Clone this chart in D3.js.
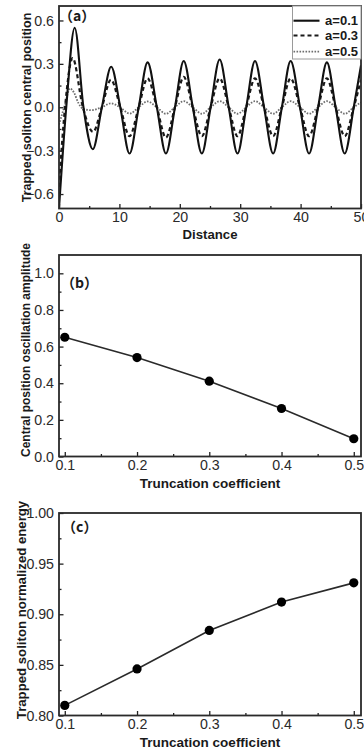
<!DOCTYPE html>
<html>
<head>
<meta charset="utf-8">
<script src="https://cdn.jsdelivr.net/npm/d3@7"></script>
<style>
  body { margin: 0; background: #fff; }
  svg { display: block; }
</style>
</head>
<body>
<div id="chart"></div>
<script>
// ---- panel (a): trapped soliton central position vs distance ----
const distTicks = [0, 10, 20, 30, 40, 50];
const posTicks = [-0.6, -0.3, 0.0, 0.3, 0.6];

const a01X = [0, 1.2, 2.6, 4.05, 5.6, 7.1, 8.64, 10.15, 11.68, 13.2, 14.67, 16.2, 17.7, 19.2, 20.65, 22.15, 23.65, 25.1, 26.6, 28.1, 29.55, 31.0, 32.45, 33.95, 35.45, 36.9, 38.35, 39.9, 41.4, 42.9, 44.35, 45.8, 47.3, 48.8, 50];
const a01Y = [-0.70, 0.0, 0.55, 0.0, -0.29, 0.0, 0.28, 0.0, -0.32, 0.0, 0.31, 0.0, -0.32, 0.0, 0.32, 0.0, -0.32, 0.0, 0.33, 0.0, -0.32, 0.0, 0.32, 0.0, -0.32, 0.0, 0.32, 0.0, -0.32, 0.0, 0.31, 0.0, -0.32, 0.0, 0.29];

const a03X = [0, 1.0, 2.25, 3.95, 5.65, 7.1, 8.6, 10.15, 11.68, 13.2, 14.65, 16.2, 17.7, 19.2, 20.65, 22.15, 23.65, 25.1, 26.6, 28.1, 29.55, 31.0, 32.45, 33.95, 35.45, 36.9, 38.35, 39.9, 41.4, 42.9, 44.35, 45.8, 47.3, 48.8, 50];
const a03Y = [-0.55, 0.0, 0.34, 0.0, -0.17, 0.0, 0.19, 0.0, -0.20, 0.0, 0.20, 0.0, -0.21, 0.0, 0.21, 0.0, -0.20, 0.0, 0.20, 0.0, -0.20, 0.0, 0.20, 0.0, -0.20, 0.0, 0.20, 0.0, -0.20, 0.0, 0.20, 0.0, -0.20, 0.0, 0.19];

const a05X = [0, 1.0, 1.8, 2.5, 3.2, 4.2, 5.4, 7.1, 8.6, 10.1, 11.7, 13.2, 14.65, 16.2, 17.7, 19.2, 20.65, 22.15, 23.65, 25.1, 26.6, 28.1, 29.55, 31.0, 32.45, 33.95, 35.45, 36.9, 38.35, 39.9, 41.4, 42.9, 44.35, 45.8, 47.3, 48.8, 50];
const a05Y = [-0.12, 0.02, 0.13, 0.10, 0.03, -0.015, -0.02, 0.0, 0.027, 0.0, -0.044, 0.0, 0.04, 0.0, -0.045, 0.0, 0.042, 0.0, -0.045, 0.0, 0.042, 0.0, -0.045, 0.0, 0.042, 0.0, -0.045, 0.0, 0.042, 0.0, -0.045, 0.0, 0.042, 0.0, -0.045, 0.0, 0.035];

const legendLabels = ['a=0.1', 'a=0.3', 'a=0.5'];

// ---- panels (b) and (c): vs truncation coefficient ----
const coefficients = [0.1, 0.2, 0.3, 0.4, 0.5];
const amplitude = [0.651, 0.540, 0.411, 0.262, 0.097];
const energy = [0.810, 0.846, 0.884, 0.912, 0.931];
const coefTicks = [0.1, 0.2, 0.3, 0.4, 0.5];
const ampTicks = [0.0, 0.2, 0.4, 0.6, 0.8, 1.0];
const energyTicks = [0.80, 0.85, 0.90, 0.95, 1.00];

const W = 364, H = 751;
const left = 59, right = 361;
const FONT = 'Arial, "Liberation Sans", Helvetica, sans-serif';
const BOLDF = '"Liberation Sans", Arial, "Noto Sans CJK SC", sans-serif';

const svg = d3.select('#chart').append('svg')
  .attr('width', W).attr('height', H)
  .style('background', '#fff');

function drawAxes(x, y, xt, yt, xMinor, yMinor, xFmt, yFmt) {
  const [y0, y1] = y.range();
  const g = svg.append('g');

  // minor ticks first (inward)
  g.append('g').attr('transform', `translate(0,${y0})`)
    .call(d3.axisBottom(x).tickValues(xMinor).tickSize(-2.5).tickFormat(''))
    .call(s => s.select('.domain').remove());
  g.append('g').attr('transform', `translate(${left},0)`)
    .call(d3.axisLeft(y).tickValues(yMinor).tickSize(-2.5).tickFormat(''))
    .call(s => s.select('.domain').remove());

  const xa = g.append('g').attr('transform', `translate(0,${y0})`)
    .call(d3.axisBottom(x).tickValues(xt).tickSize(-4.5).tickPadding(3.5).tickFormat(xFmt));
  const ya = g.append('g').attr('transform', `translate(${left},0)`)
    .call(d3.axisLeft(y).tickValues(yt).tickSize(-4.5).tickPadding(5).tickFormat(yFmt));

  [xa, ya].forEach(a => {
    a.select('.domain').remove();
    a.attr('font-family', FONT).attr('font-size', 14.2);
    a.selectAll('text').attr('fill', '#2a2a2a');
  });
  g.selectAll('.tick line').attr('stroke', '#222').attr('stroke-width', 1.3);

  // frame
  g.append('rect')
    .attr('x', left).attr('y', y1)
    .attr('width', right - left).attr('height', y0 - y1)
    .attr('fill', 'none').attr('stroke', '#2a2a2a').attr('stroke-width', 1.8);
  return g;
}

function yTitle(text, cx, cy, size) {
  svg.append('text')
    .attr('transform', `translate(${cx},${cy}) rotate(-90)`)
    .attr('text-anchor', 'middle').attr('dy', '0.35em')
    .attr('font-family', BOLDF).attr('font-weight', 'bold')
    .attr('font-size', size).attr('fill', '#1a1a1a')
    .text(text);
}
function xTitle(text, cy, size) {
  svg.append('text')
    .attr('x', (left + right) / 2).attr('y', cy)
    .attr('text-anchor', 'middle').attr('dy', '0.35em')
    .attr('font-family', BOLDF).attr('font-weight', 'bold')
    .attr('font-size', size).attr('fill', '#1a1a1a')
    .text(text);
}
function panelLabel(text, x, y) {
  svg.append('text')
    .attr('x', x).attr('y', y).attr('dy', '0.35em')
    .attr('font-family', '"Noto Sans CJK SC", "Liberation Sans", sans-serif').attr('font-weight', 'bold')
    .attr('font-size', 14).attr('fill', '#1a1a1a')
    .text(text);
}

// ================= panel (a) =================
const xA = d3.scaleLinear().domain([0, 50]).range([left, right]);
const yA = d3.scaleLinear().domain([-0.7, 0.7]).range([208.5, 6]);

svg.append('clipPath').attr('id', 'clipA')
  .append('rect').attr('x', left).attr('y', 6).attr('width', right - left).attr('height', 202.5);

const lineA = d3.line().x(d => xA(d[0])).y(d => yA(d[1])).curve(d3.curveMonotoneX);
const series = [
  { x: a05X, y: a05Y, stroke: '#6e6e6e', width: 1.8, dash: '1.6,1.4' },
  { x: a03X, y: a03Y, stroke: '#1a1a1a', width: 2.2, dash: '4,3' },
  { x: a01X, y: a01Y, stroke: '#111', width: 2.1, dash: null }
];
const curves = svg.append('g').attr('clip-path', 'url(#clipA)');
series.forEach(s => {
  curves.append('path')
    .datum(d3.zip(s.x, s.y))
    .attr('fill', 'none')
    .attr('stroke', s.stroke)
    .attr('stroke-width', s.width)
    .attr('stroke-dasharray', s.dash)
    .attr('d', lineA);
});

drawAxes(xA, yA, distTicks, posTicks, d3.range(5, 50, 10), [-0.45, -0.15, 0.15, 0.45],
  d3.format('d'), d3.format('.1f'));

yTitle('Trapped soliton central position', 26.5, 107.5, 12.5);
xTitle('Distance', 234, 13.2);
panelLabel('（a）', 59, 16);

// legend
const leg = svg.append('g');
leg.append('rect').attr('x', 292.5).attr('y', 6).attr('width', right - 292.5).attr('height', 53)
  .attr('fill', '#fff').attr('stroke', '#9a9a9a').attr('stroke-width', 1);
const legY = [20.7, 35.5, 51.7];
const legStyle = [series[2], series[1], series[0]];
legendLabels.forEach((lab, i) => {
  leg.append('line')
    .attr('x1', 293.5).attr('x2', 319.5).attr('y1', legY[i]).attr('y2', legY[i])
    .attr('stroke', legStyle[i].stroke).attr('stroke-width', legStyle[i].width)
    .attr('stroke-dasharray', legStyle[i].dash);
  leg.append('text')
    .attr('x', 358).attr('y', legY[i]).attr('dy', '0.35em')
    .attr('text-anchor', 'end')
    .attr('font-family', BOLDF).attr('font-weight', 'bold').attr('font-size', 13)
    .attr('fill', '#1a1a1a')
    .text(lab);
});

// ================= panel (b) =================
const xB = d3.scaleLinear().domain([0.092, 0.51]).range([left, right]);
const yB = d3.scaleLinear().domain([0, 1.1]).range([456.5, 255]);
drawAxes(xB, yB, coefTicks, ampTicks, [0.15, 0.25, 0.35, 0.45], [0.1, 0.3, 0.5, 0.7, 0.9],
  d3.format('.1f'), d3.format('.1f'));

const lineB = d3.line().x(d => xB(d[0])).y(d => yB(d[1]));
svg.append('path').datum(d3.zip(coefficients, amplitude))
  .attr('fill', 'none').attr('stroke', '#2a2a2a').attr('stroke-width', 1.6).attr('d', lineB);
svg.append('g').selectAll('circle').data(d3.zip(coefficients, amplitude)).join('circle')
  .attr('cx', d => xB(d[0])).attr('cy', d => yB(d[1])).attr('r', 4.6).attr('fill', '#000');

yTitle('Central position oscillation amplitude', 26, 350, 12);
xTitle('Truncation coefficient', 483, 13.5);
panelLabel('（b）', 61, 283.5);

// ================= panel (c) =================
const xC = d3.scaleLinear().domain([0.092, 0.51]).range([left, right]);
const yC = d3.scaleLinear().domain([0.8, 1.0]).range([715.5, 513]);
drawAxes(xC, yC, coefTicks, energyTicks, [0.15, 0.25, 0.35, 0.45], [0.825, 0.875, 0.925, 0.975],
  d3.format('.1f'), d3.format('.2f'));

const lineC = d3.line().x(d => xC(d[0])).y(d => yC(d[1]));
svg.append('path').datum(d3.zip(coefficients, energy))
  .attr('fill', 'none').attr('stroke', '#2a2a2a').attr('stroke-width', 1.6).attr('d', lineC);
svg.append('g').selectAll('circle').data(d3.zip(coefficients, energy)).join('circle')
  .attr('cx', d => xC(d[0])).attr('cy', d => yC(d[1])).attr('r', 4.6).attr('fill', '#000');

yTitle('Trapped soliton normalized energy', 21, 610, 13.2);
xTitle('Truncation coefficient', 742.5, 13.5);
panelLabel('（c）', 62, 527);
</script>
</body>
</html>
